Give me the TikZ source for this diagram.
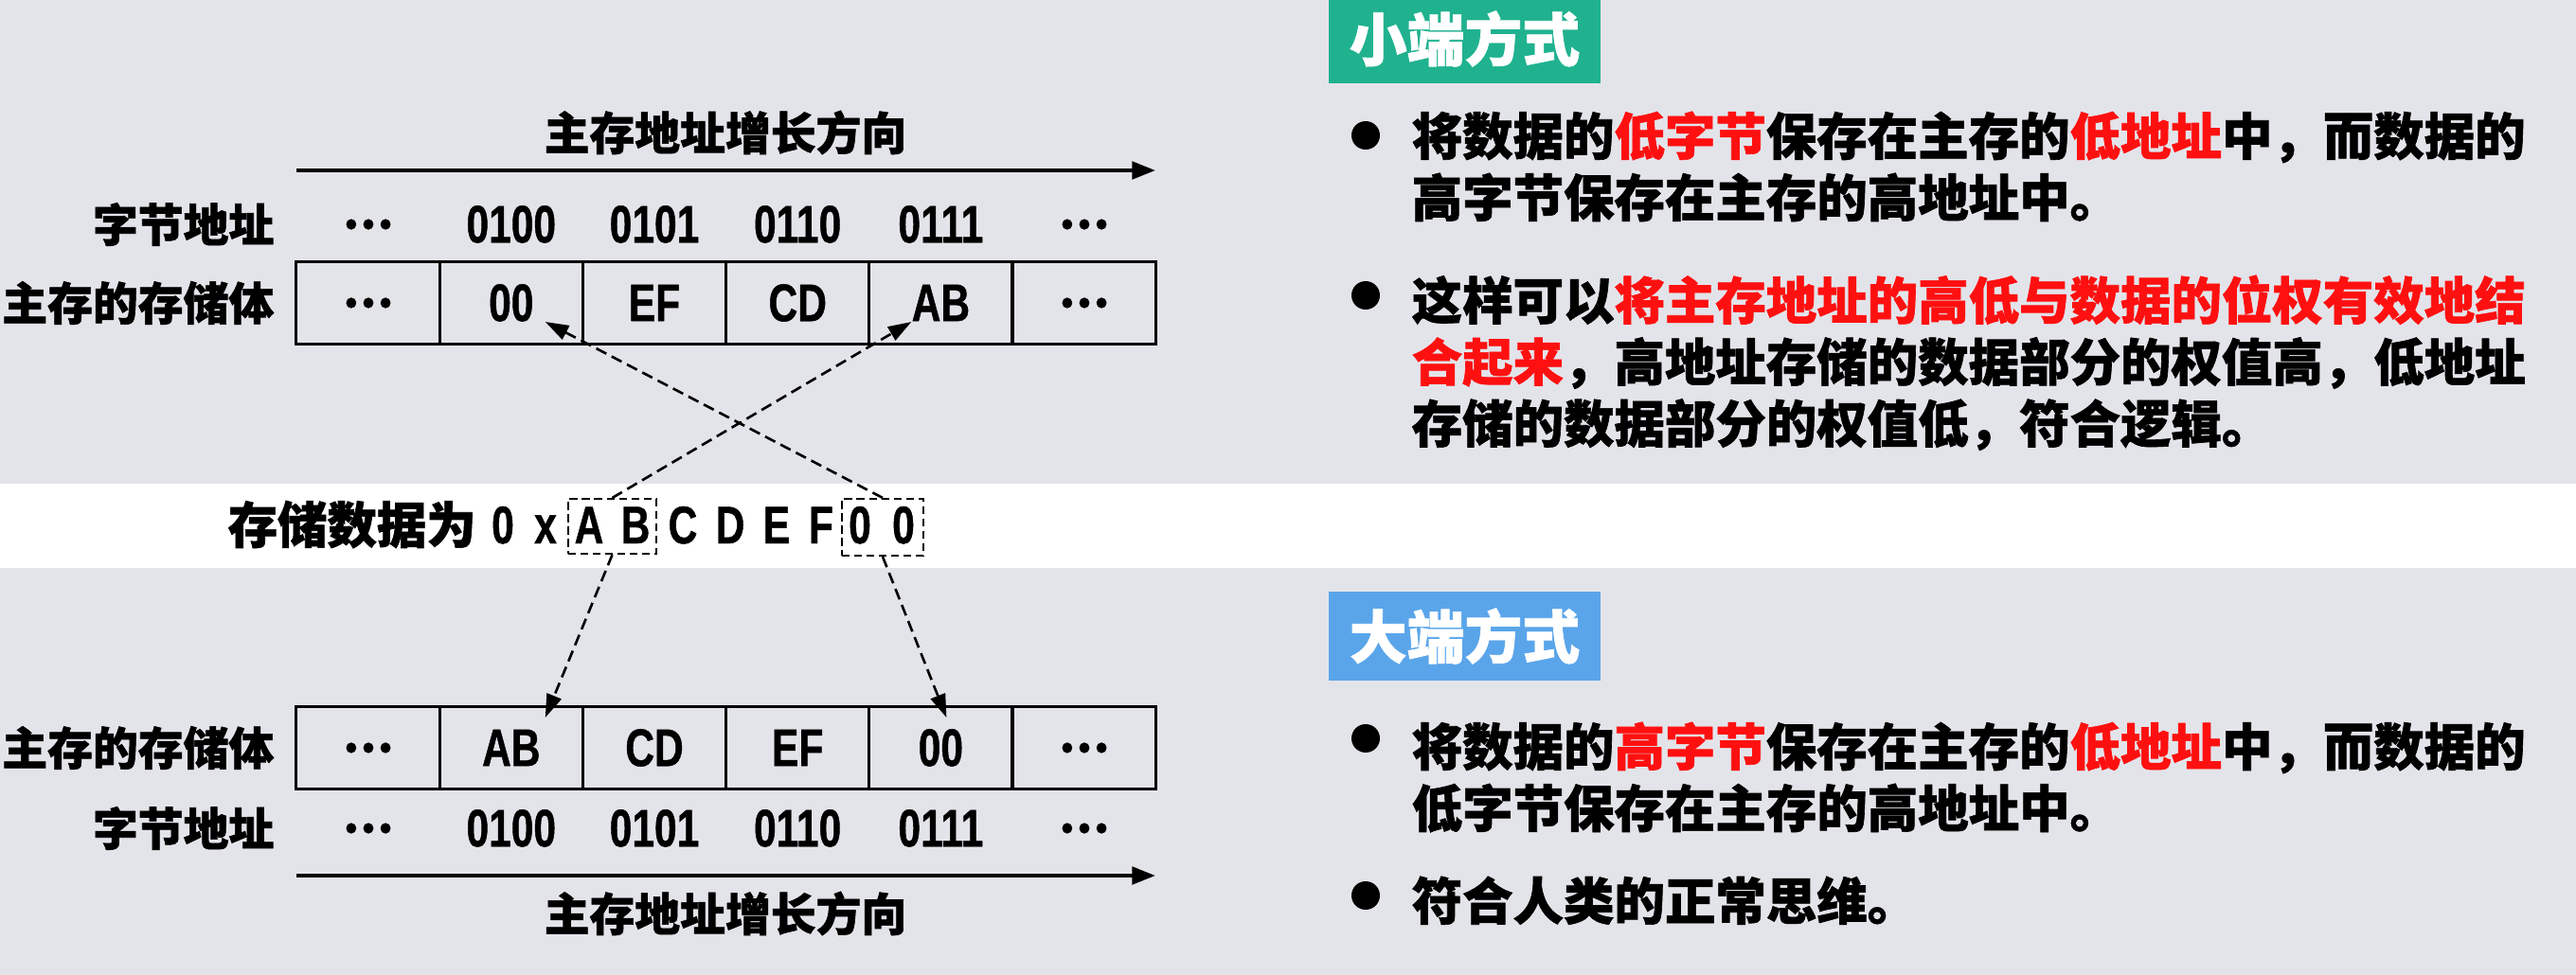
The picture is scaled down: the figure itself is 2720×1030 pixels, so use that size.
\documentclass[tikz,border=0pt]{standalone}
\usepackage{fontspec}
\usepackage{xcolor}
\usepackage{tikz}
\usetikzlibrary{calc,arrows.meta}
\newfontfamily\hei{Noto Sans CJK SC}[BoldFeatures={FakeBold=1.2}]
\newfontfamily\narrow{Liberation Sans}[FakeStretch=0.76, BoldFeatures={FakeBold=0.8}]
\definecolor{paper}{HTML}{E3E4EA}
\definecolor{mint}{HTML}{20B28F}
\definecolor{sky}{HTML}{5AA5EA}
\definecolor{hot}{HTML}{FF1010}
\newcommand\dd{{\hei\bfseries\fontsize{13.6}{16}\selectfont ⋯}}
\tikzset{
  frame/.style={draw=black, line width=0.85pt},
  num/.style={font=\narrow\bfseries\fontsize{15.9}{18}\selectfont, inner sep=0pt},
  cell/.style={frame, num, minimum width=1.512cm, minimum height=0.86cm, inner sep=0pt},
  lab/.style={font=\hei\bfseries\fontsize{13.6}{16}\selectfont, inner sep=0pt},
  axis/.style={draw=black, line width=1.2pt, -{Triangle[length=7pt,width=5.2pt]}},
  link/.style={draw=black, line width=0.75pt, dash pattern=on 3.4pt off 1.8pt, -{Triangle[length=7pt,width=4.6pt]}},
  pick/.style={draw=black, line width=0.6pt, dash pattern=on 2.4pt off 1.3pt, inner sep=0pt},
  tag/.style={text=white, font=\hei\bfseries\fontsize{17.3}{20}\selectfont, minimum width=2.87cm, minimum height=0.94cm, inner sep=0pt},
  say/.style={font=\hei\bfseries\fontsize{15.2}{18.5}\selectfont, align=left, anchor=north west, inner sep=0pt},
}
\begin{document}
\begin{tikzpicture}[x=0.01cm, y=-0.01cm]
  \useasboundingbox (0,0) rectangle (2720,1030);
  \fill[paper] (0,0) rectangle (2720,1030);
  \fill[white] (0,511) rectangle (2720,600);

  % little endian memory
  \coordinate (ga) at (313,180);
  \coordinate (gb) at (1220,180);
  \draw[axis] (ga) -- (gb);
  \node[lab] (gup) at (766,140) {主存地址增长方向};
  \node[lab, anchor=east] (addrU) at (290,237) {字节地址};
  \node[lab, anchor=east] (memU) at (290,320) {主存的存储体};
  \foreach \a [count=\i] in {\dd,0100,0101,0110,0111,\dd}
    \node[num] (au\i) at ({313+151.2*(\i-0.5)},237) {\a};
  \foreach \v [count=\i] in {\dd,00,EF,CD,AB,\dd}
    \node[cell] (u\i) at ({313+151.2*(\i-0.5)},320) {\v};

  % the stored word
  \node[lab, anchor=base west, font=\hei\bfseries\fontsize{14.9}{17}\selectfont] (store) at (240,574) {存储数据为};
  \foreach \c/\p [count=\i] in {0/531,x/576,A/622,B/671,C/721,D/771,E/820,F/867,0/908,0/954}
    \node[num, anchor=base] (d\i) at (\p,574) {\c};
  \node[pick, minimum width=0.93cm, minimum height=0.58cm] (pAB) at (646.5,556) {};
  \node[pick, minimum width=0.86cm, minimum height=0.60cm] (p00) at (932,557) {};

  % big endian memory
  \foreach \v [count=\i] in {\dd,AB,CD,EF,00,\dd}
    \node[cell] (l\i) at ({313+151.2*(\i-0.5)},790) {\v};
  \foreach \a [count=\i] in {\dd,0100,0101,0110,0111,\dd}
    \node[num] (al\i) at ({313+151.2*(\i-0.5)},875) {\a};
  \node[lab, anchor=east] (memL) at (290,790) {主存的存储体};
  \node[lab, anchor=east] (addrL) at (290,875) {字节地址};
  \coordinate (ha) at (313,925);
  \coordinate (hb) at (1220,925);
  \draw[axis] (ha) -- (hb);
  \node[lab] (gdown) at (766,965) {主存地址增长方向};

  % byte moves
  \coordinate (tu2) at ($(u2)+(36,20)$);
  \coordinate (tu5) at ($(u5)+(-31,20)$);
  \coordinate (tl2) at ($(l2)+(36,-32)$);
  \coordinate (tl5) at ($(l5)+(6,-32)$);
  \draw[link] (p00.north) -- (tu2);
  \draw[link] (pAB.north) -- (tu5);
  \draw[link] (pAB.south) -- (tl2);
  \draw[link] (p00.south) -- (tl5);

  % notes
  \node[tag, fill=mint] (little) at (1546.5,41) {小端方式};
  \fill (1442,143) circle (0.15cm);
  \node[say] (n1) at (1490,117) {将数据的\textcolor{hot}{低字节}保存在主存的\textcolor{hot}{低地址}中，而数据的\\高字节保存在主存的高地址中。};
  \fill (1442,312) circle (0.15cm);
  \node[say] (n2) at (1490,290) {这样可以\textcolor{hot}{将主存地址的高低与数据的位权有效地结}\\\textcolor{hot}{合起来}，高地址存储的数据部分的权值高，低地址\\存储的数据部分的权值低，符合逻辑。};
  \node[tag, fill=sky] (big) at (1546.5,672) {大端方式};
  \fill (1442,780) circle (0.15cm);
  \node[say] (n3) at (1490,762) {将数据的\textcolor{hot}{高字节}保存在主存的\textcolor{hot}{低地址}中，而数据的\\低字节保存在主存的高地址中。};
  \fill (1442,946) circle (0.15cm);
  \node[say] (n4) at (1490,925) {符合人类的正常思维。};
\end{tikzpicture}
\end{document}
